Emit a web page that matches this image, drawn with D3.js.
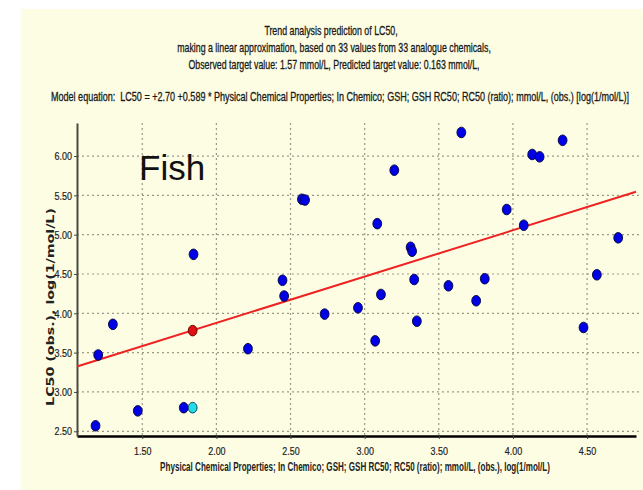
<!DOCTYPE html>
<html>
<head>
<meta charset="utf-8">
<script src="https://cdn.jsdelivr.net/npm/d3@7"></script>
<style>
  html, body { margin: 0; padding: 0; background: #ffffff; }
  svg { display: block; }
</style>
</head>
<body>
<svg id="chart" width="643" height="490"></svg>
<script>
// Analogue chemicals: descriptor (x) vs observed LC50, log(1/mol/L)
const descriptorX = [1.185, 1.203, 1.302, 1.47, 1.78, 1.846, 2.213, 2.446, 2.457, 2.577, 2.598,
  2.73, 2.955, 3.071, 3.085, 3.11, 3.20, 3.31, 3.32, 3.334, 3.352, 3.565, 3.652, 3.752, 3.81,
  3.958, 4.073, 4.13, 4.18, 4.335, 4.476, 4.566, 4.71];
const observedLC50 = [2.57, 3.47, 3.86, 2.76, 2.80, 4.75, 3.55, 4.42, 4.22, 5.45, 5.44,
  3.99, 4.07, 3.65, 5.14, 4.24, 5.82, 4.84, 4.79, 4.43, 3.90, 4.35, 6.30, 4.16, 4.44,
  5.32, 5.12, 6.02, 5.99, 6.20, 3.82, 4.49, 4.96];

// Target chemical: predicted (on the trend line) and observed
const targetX = 1.84;
const targetPredicted = 3.78;
const targetObserved = 2.80;

// Linear model LC50 = intercept + slope * x
const modelIntercept = 2.70;
const modelSlope = 0.589;

const xTicks = [1.5, 2.0, 2.5, 3.0, 3.5, 4.0, 4.5];
const yTicks = [2.5, 3.0, 3.5, 4.0, 4.5, 5.0, 5.5, 6.0];

const titleLines = [
  "Trend analysis prediction of LC50,",
  "making a linear approximation, based on 33 values from 33 analogue chemicals,",
  "Observed target value: 1.57 mmol/L, Predicted target value: 0.163 mmol/L,"
];
const equationText = "Model equation:\u00a0\u00a0LC50 = +2.70 +0.589 * Physical Chemical Properties; In Chemico; GSH; GSH RC50; RC50 (ratio); mmol/L, (obs.) [log(1/mol/L)]";
const xTitle = "Physical Chemical Properties; In Chemico; GSH; GSH RC50; RC50 (ratio); mmol/L, (obs.), log(1/mol/L)";
const yTitle = "LC50 (obs.), log(1/mol/L)";
const panelLabel = "Fish";

const svg = d3.select("#chart");
const SANS = "Liberation Sans, Arial, sans-serif";

// Place a text squeezed horizontally; width given => squeeze factor fitted to it
function squeezed(parent, str, opts) {
  const t = parent.append("text")
    .attr("x", 0).attr("y", 0)
    .attr("text-anchor", opts.anchor || "start")
    .attr("font-family", opts.family || SANS)
    .attr("font-size", opts.size)
    .attr("font-weight", opts.weight || "normal")
    .attr("fill", opts.fill || "#1a1a1a")
    .attr("stroke", opts.heavy ? (opts.fill || "#1a1a1a") : null)
    .attr("stroke-width", opts.heavy ? opts.heavy : null)
    .text(str);
  let k = opts.scale;
  if (opts.width) k = opts.width / t.node().getComputedTextLength();
  t.attr("transform", `translate(${opts.x},${opts.y})${opts.rotate ? ` rotate(${opts.rotate})` : ""} scale(${k},1)`);
  return k;
}

// cream panel
svg.append("rect").attr("x", 21).attr("y", 9).attr("width", 622).attr("height", 481)
  .attr("fill", "#fdfde4");

const plot = { left: 77, right: 636, top: 123, bottom: 436 };
const x = d3.scaleLinear().domain([1.06, 4.83]).range([plot.left, plot.right]);
const y = d3.scaleLinear().domain([2.44, 6.42]).range([plot.bottom, plot.top]);

// header: common squeeze taken from the longest line
const header = svg.append("g");
const hk = squeezed(header, titleLines[1], { x: 334, y: 52, size: 12, anchor: "middle", width: 314, heavy: 0.3 });
squeezed(header, titleLines[0], { x: 331, y: 35, size: 12, anchor: "middle", scale: hk, heavy: 0.3 });
squeezed(header, titleLines[2], { x: 334, y: 69, size: 12, anchor: "middle", scale: hk, heavy: 0.3 });
squeezed(header, equationText, { x: 51, y: 101, size: 12, width: 579, heavy: 0.3 });

// grid
const grid = svg.append("g").attr("stroke", "#9a9a88").attr("stroke-width", 1.2)
  .attr("stroke-dasharray", "2,3");
grid.selectAll("line.h").data(yTicks).join("line").attr("class", "h")
  .attr("x1", plot.left).attr("x2", 639)
  .attr("y1", d => y(d)).attr("y2", d => y(d));
grid.selectAll("line.v").data(xTicks).join("line").attr("class", "v")
  .attr("x1", d => x(d)).attr("x2", d => x(d))
  .attr("y1", plot.top).attr("y2", plot.bottom);

// axes
const fmt = d3.format(".2f");
const xAxis = svg.append("g").attr("transform", `translate(0,${plot.bottom})`)
  .call(d3.axisBottom(x).tickValues(xTicks).tickFormat(fmt).tickSize(3).tickSizeOuter(0));
const yAxis = svg.append("g").attr("transform", `translate(${plot.left},0)`)
  .call(d3.axisLeft(y).tickValues(yTicks).tickFormat(fmt).tickSize(3).tickSizeOuter(0));
[xAxis, yAxis].forEach(g => {
  g.selectAll("text").attr("font-family", SANS).attr("font-size", 11.5).attr("fill", "#222")
    .attr("stroke", "#222").attr("stroke-width", 0.2)
    .attr("transform", "scale(0.78,1)");
  g.selectAll(".tick line").attr("stroke", "#444");
});
xAxis.select(".domain").attr("stroke", "#000").attr("stroke-width", 2.5);
yAxis.select(".domain").attr("stroke", "#4a4a40").attr("stroke-width", 2);
xAxis.selectAll("text").attr("y", 11).attr("dy", "0.71em");
yAxis.selectAll("text").attr("x", -5 / 0.78);

// axis titles
squeezed(svg, xTitle, { x: 355, y: 471, size: 12, weight: "bold", anchor: "middle", width: 390, fill: "#222" });
squeezed(svg, yTitle, { x: 54, y: 307, size: 10, weight: "bold", anchor: "middle", width: 198,
  rotate: -90, family: "DejaVu Sans, Verdana, sans-serif", fill: "#222" });

// panel label
svg.append("text").attr("x", 139).attr("y", 180)
  .attr("font-family", SANS)
  .attr("font-size", 35).attr("fill", "#111")
  .text(panelLabel);

// trend line
const lineData = x.domain().map(v => [v, modelIntercept + modelSlope * v]);
svg.append("path")
  .attr("d", d3.line().x(d => x(d[0])).y(d => y(d[1]))(lineData))
  .attr("stroke", "#ee2222").attr("stroke-width", 2).attr("fill", "none");

// analogue points
const pts = descriptorX.map((v, i) => ({ x: v, y: observedLC50[i] }));
svg.append("g").selectAll("ellipse").data(pts).join("ellipse")
  .attr("cx", d => x(d.x)).attr("cy", d => y(d.y))
  .attr("rx", 4.4).attr("ry", 5.3)
  .attr("fill", "#0000e6").attr("stroke", "#00003a").attr("stroke-width", 0.9);

// target: observed (cyan) and predicted (red)
svg.append("ellipse")
  .attr("cx", x(targetX)).attr("cy", y(targetObserved))
  .attr("rx", 4.4).attr("ry", 5.3)
  .attr("fill", "#22dde6").attr("stroke", "#00305a").attr("stroke-width", 0.9);
svg.append("ellipse")
  .attr("cx", x(targetX)).attr("cy", y(targetPredicted))
  .attr("rx", 4.4).attr("ry", 5.3)
  .attr("fill", "#e01010").attr("stroke", "#5a0000").attr("stroke-width", 0.9);
</script>
</body>
</html>
